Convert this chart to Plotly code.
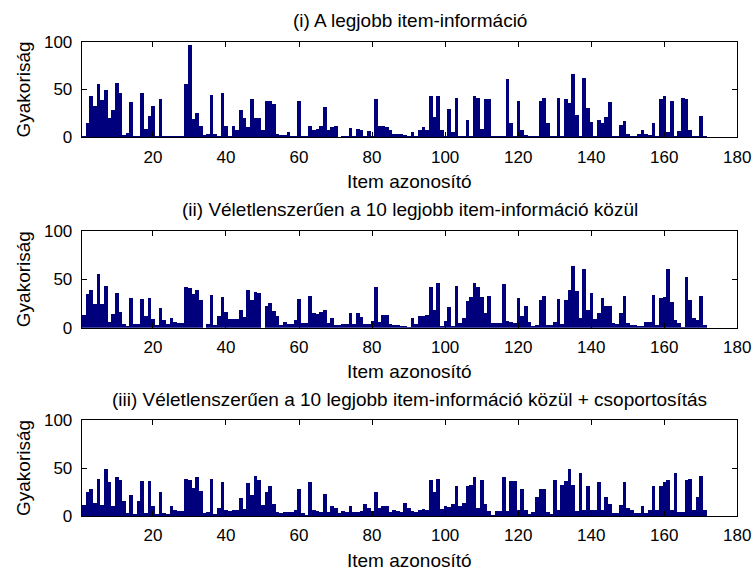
import plotly.graph_objects as go

# ---------------- data ----------------
items = list(range(1, 172))

s1 = [2, 15, 43, 33, 56, 39, 50, 20, 29, 57,
      47, 3, 5, 37, 2, 2, 47, 9, 23, 33,
      1, 40, 2, 2, 2, 1, 1, 2, 56, 97,
      19, 26, 12, 3, 4, 45, 4, 1, 47, 12,
      1, 12, 8, 29, 20, 11, 40, 20, 21, 8,
      38, 38, 35, 4, 3, 3, 6, 2, 2, 38,
      1, 1, 12, 8, 9, 12, 32, 8, 11, 12,
      0, 1, 1, 10, 1, 9, 8, 1, 7, 1,
      40, 12, 12, 11, 8, 4, 4, 4, 3, 1,
      6, 2, 8, 11, 8, 43, 22, 43, 8, 1,
      30, 6, 41, 1, 1, 18, 1, 43, 41, 9,
      40, 40, 1, 1, 1, 1, 61, 15, 1, 38,
      8, 3, 2, 2, 2, 38, 41, 15, 1, 1,
      41, 1, 40, 36, 67, 24, 1, 62, 31, 16,
      2, 18, 15, 22, 37, 2, 2, 13, 17, 4,
      1, 2, 4, 8, 4, 3, 15, 1, 40, 43,
      6, 38, 1, 7, 41, 40, 8, 2, 1, 23, 1]

s2 = [13, 35, 39, 25, 56, 25, 43, 6, 14, 36,
      16, 4, 2, 31, 4, 4, 30, 12, 31, 9,
      3, 21, 8, 4, 10, 6, 5, 5, 42, 41,
      35, 39, 29, 0, 4, 34, 3, 12, 32, 16,
      9, 9, 9, 19, 11, 39, 29, 37, 36, 0,
      23, 26, 18, 12, 3, 6, 4, 4, 8, 30,
      5, 5, 33, 15, 14, 16, 19, 5, 10, 3,
      3, 4, 4, 15, 4, 15, 11, 4, 4, 7,
      42, 6, 13, 13, 4, 3, 3, 2, 2, 1,
      10, 4, 12, 12, 13, 42, 19, 46, 2, 7,
      22, 2, 43, 5, 10, 28, 32, 46, 42, 32,
      15, 33, 5, 5, 5, 45, 7, 6, 5, 31,
      12, 23, 6, 2, 3, 29, 33, 3, 3, 6,
      30, 4, 29, 39, 64, 38, 10, 61, 19, 36,
      9, 15, 31, 23, 23, 5, 4, 15, 33, 5,
      3, 3, 2, 2, 6, 6, 34, 3, 31, 32,
      61, 27, 8, 5, 1, 53, 29, 10, 8, 33, 3]

s3 = [11, 25, 28, 14, 39, 11, 49, 35, 10, 41,
      38, 16, 3, 22, 2, 16, 36, 3, 36, 10,
      2, 25, 3, 2, 10, 6, 5, 5, 39, 37,
      29, 41, 26, 3, 4, 39, 2, 8, 35, 6,
      5, 6, 6, 19, 7, 34, 22, 42, 37, 11,
      25, 31, 13, 4, 3, 4, 4, 4, 6, 28,
      3, 1, 35, 6, 5, 4, 23, 4, 10, 8,
      3, 5, 4, 10, 4, 4, 5, 13, 8, 5,
      25, 8, 10, 10, 4, 6, 5, 4, 14, 8,
      5, 4, 6, 7, 6, 38, 25, 39, 7, 10,
      9, 13, 31, 10, 14, 31, 32, 41, 8, 38,
      12, 5, 1, 5, 5, 41, 5, 36, 36, 6,
      28, 6, 2, 4, 20, 28, 28, 4, 2, 37,
      6, 32, 36, 49, 32, 5, 45, 6, 31, 6,
      6, 35, 6, 20, 13, 3, 3, 11, 35, 8,
      6, 3, 3, 10, 3, 6, 31, 6, 31, 35,
      37, 6, 45, 4, 4, 37, 39, 6, 20, 42, 6]

titles = ["(i) A legjobb item-információ",
          "(ii) Véletlenszerűen a 10 legjobb item-információ közül",
          "(iii) Véletlenszerűen a 10 legjobb item-információ közül + csoportosítás"]
x_label = "Item azonosító"
y_label = "Gyakoriság"
x_ticks = [20, 40, 60, 80, 100, 120, 140, 160, 180]
y_ticks = [0, 50, 100]

# ---------------- layout helpers ----------------
W, H = 755, 570
def fx(p): return p / W
def fy(p): return 1 - p / H

FONT = "Liberation Sans, Arial, Helvetica, sans-serif"
left, right = 81.7, 737.3
rows = [(41.7, 137.3), (230.7, 327.7), (420.0, 516.0)]
bar_color = "#00007C"

fig = go.Figure()
annotations = []
for i, (vals, (top, bot)) in enumerate(zip([s1, s2, s3], rows)):
    n = "" if i == 0 else str(i + 1)
    fig.add_trace(go.Bar(x=items, y=vals, xaxis="x" + n, yaxis="y" + n,
                         width=1, marker=dict(color=bar_color, line=dict(width=0)),
                         showlegend=False, hoverinfo="x+y"))
    axis_common = dict(showline=True, linecolor="black", linewidth=1, mirror="allticks",
                       ticks="inside", ticklen=5, tickcolor="black", tickwidth=1,
                       showgrid=False, zeroline=False, ticklabeloverflow="allow",
                       automargin=False,
                       tickfont=dict(family=FONT, size=17, color="black"))
    fig.layout["xaxis" + n] = dict(domain=[fx(left), fx(right)], anchor="y" + n,
                                   range=[0.5, 180], tickvals=x_ticks,
                                   ticklabelstandoff=4, **axis_common)
    fig.layout["yaxis" + n] = dict(domain=[fy(bot), fy(top)], anchor="x" + n,
                                   range=[0, 100], tickvals=y_ticks,
                                   ticklabelstandoff=5, **axis_common)
    cx = (left + right) / 2
    annotations.append(dict(text=titles[i], xref="paper", yref="paper",
                            x=fx(cx), y=fy(top - 21), xanchor="center", yanchor="middle",
                            showarrow=False, font=dict(family=FONT, size=19, color="black")))
    annotations.append(dict(text=x_label, xref="paper", yref="paper",
                            x=fx(cx), y=fy(bot + 44), xanchor="center", yanchor="middle",
                            showarrow=False, font=dict(family=FONT, size=19, color="black")))
    annotations.append(dict(text=y_label, xref="paper", yref="paper",
                            x=fx(23), y=fy((top + bot) / 2), xanchor="center", yanchor="middle",
                            textangle=-90, showarrow=False,
                            font=dict(family=FONT, size=19, color="black")))

fig.update_layout(width=W, height=H, margin=dict(l=0, r=0, t=0, b=0, autoexpand=False),
                  paper_bgcolor="white", plot_bgcolor="white",
                  bargap=0, annotations=annotations, showlegend=False)

page_css = ("document.documentElement.style.margin='0';"
            "document.documentElement.style.overflow='hidden';"
            "document.body.style.margin='0';"
            "document.body.style.overflow='hidden';")

fig.write_html("out.html", post_script=page_css, config={"displayModeBar": False})
